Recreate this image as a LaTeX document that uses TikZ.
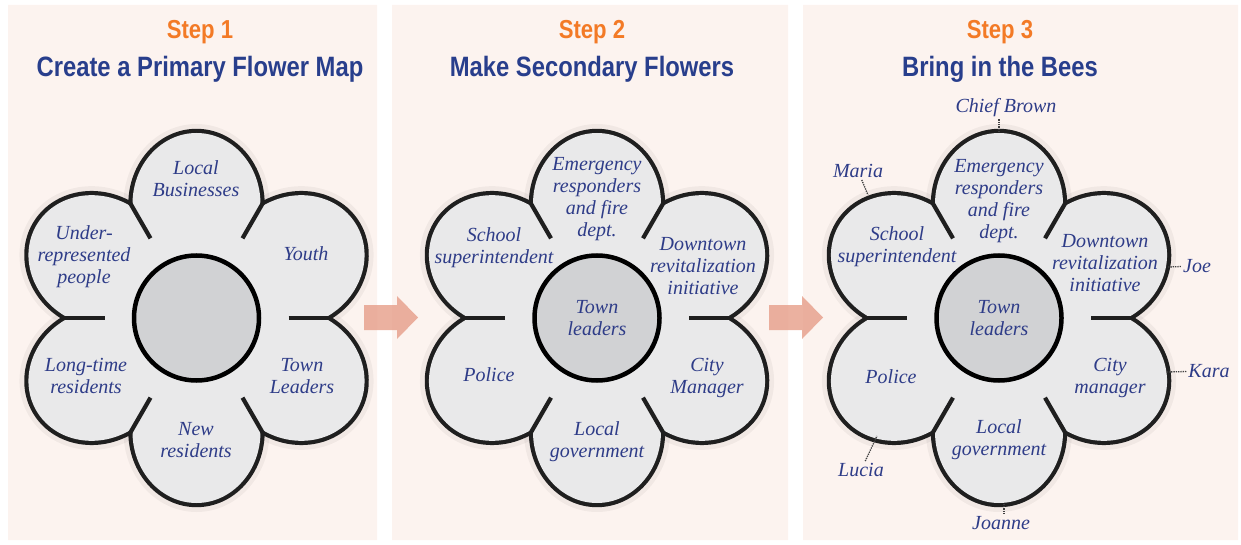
\documentclass[tikz,border=0pt]{standalone}
\usepackage{fontspec}
\setmainfont{Liberation Serif}
\newfontfamily\headfont{Liberation Sans}[FakeStretch=0.85]
\usepackage{xcolor}
\usepackage{tikz}
\definecolor{panelbg}{RGB}{252, 243, 239}
\definecolor{steporange}{RGB}{243, 122, 38}
\definecolor{titleblue}{RGB}{40, 62, 140}
\definecolor{textblue}{RGB}{46, 60, 136}
\definecolor{petalgray}{RGB}{233, 233, 234}
\definecolor{hubgray}{RGB}{209, 210, 212}
\definecolor{arrowpink}{RGB}{232, 163, 143}
\usetikzlibrary{shapes, arrows, positioning, calc}

% six oval petals round the point #1
\newcommand{\flower}[1]{%
    \begin{scope}[shift={#1}]
        \foreach \a in {-90,-30,...,210}
            \draw[halo, rotate=\a-90] (0, 114) ellipse[x radius=64pt, y radius=71pt];
        \foreach \a in {-90,-30,...,210}
            \draw[rim, rotate=\a-90] (0, 114) ellipse[x radius=64pt, y radius=71pt];
        \foreach \a in {-90,-30,...,210}
            \fill[petalgray, rotate=\a-90] (0, 114) ellipse[x radius=64pt, y radius=71pt];
        \fill[petalgray] (0, 0) circle[radius=100pt];
        \foreach \b in {-60,0,...,240}
            \draw[rim, line width=4.2pt] (\b:92) -- (\b:134);
    \end{scope}
}

\begin{document}
\begin{tikzpicture}[
    x=1pt, y=1pt,
    panel/.style={chamfered rectangle, chamfered rectangle xsep=12pt, fill=panelbg, draw=none, inner sep=0pt, outer sep=0pt},
    halo/.style={draw=black, draw opacity=0.045, line width=18pt},
    rim/.style={draw=black!88, line width=8.4pt},
    hub/.style={circle, draw=black, line width=4.5pt, fill=hubgray, minimum size=125pt, inner sep=0pt, align=center, text=textblue, font=\itshape\fontsize{20}{22}\selectfont},
    lbl/.style={align=center, text=textblue, inner sep=2pt, font=\itshape\fontsize{20}{22}\selectfont},
    steplbl/.style={anchor=base, text=steporange, font=\headfont\bfseries\fontsize{26}{28}\selectfont},
    headline/.style={anchor=base, text=titleblue, font=\headfont\bfseries\fontsize{28}{30}\selectfont},
    blockarrow/.style={fill=arrowpink, fill opacity=0.85},
    pin/.style={densely dotted, line width=1.3pt, draw=black!75}
]
    \useasboundingbox (0, 0) rectangle (1241, 544);

    % Panels
    \node[panel, minimum width=369pt, minimum height=535pt] (p1) at (192.5, 271.5) {};
    \node[panel, minimum width=396pt, minimum height=535pt] (p2) at (590, 271.5) {};
    \node[panel, minimum width=435pt, minimum height=535pt] (p3) at (1020.5, 271.5) {};

    % Arrows between steps
    \fill[blockarrow] (364, 214) -- (397, 214) -- (397, 205) -- (418, 226.5) -- (397, 248) -- (397, 239) -- (364, 239) -- cycle;
    \fill[blockarrow] (769, 214) -- (802, 214) -- (802, 205) -- (823, 226.5) -- (802, 248) -- (802, 239) -- (769, 239) -- cycle;

    % Headings
    \node[steplbl] (s1) at (200, 505) {Step 1};
    \node[headline] (t1) at (200, 467) {Create a Primary Flower Map};
    \node[steplbl] (s2) at (592, 505) {Step 2};
    \node[headline] (t2) at (592, 467) {Make Secondary Flowers};
    \node[steplbl] (s3) at (1000, 505) {Step 3};
    \node[headline] (t3) at (1000, 467) {Bring in the Bees};

    % Flowers
    \flower{(196.5, 226)}
    \flower{(597, 226)}
    \flower{(999, 226)}

    \node[hub] (hub1) at (196.5, 226) {};
    \node[hub] (hub2) at (597, 226) {Town\\leaders};
    \node[hub] (hub3) at (999, 226) {Town\\leaders};

    % Step 1 petals
    \node[lbl] (f1-local) at (196, 365) {Local\\Businesses};
    \node[lbl] (f1-under) at (84, 287) {Under-\\represented\\people};
    \node[lbl] (f1-youth) at (306, 290) {Youth};
    \node[lbl] (f1-long) at (86, 168) {Long-time\\residents};
    \node[lbl] (f1-town) at (302, 168) {Town\\Leaders};
    \node[lbl] (f1-new) at (196, 104) {New\\residents};

    % Step 2 petals
    \node[lbl] (f2-emerg) at (597, 345) {Emergency\\responders\\and fire\\dept.};
    \node[lbl] (f2-school) at (494, 296) {School\\superintendent};
    \node[lbl] (f2-down) at (703, 278) {Downtown\\revitalization\\initiative};
    \node[lbl] (f2-police) at (489, 169) {Police};
    \node[lbl] (f2-city) at (707, 166) {City\\Manager};
    \node[lbl] (f2-gov) at (597, 102) {Local\\government};

    % Step 3 petals
    \node[lbl] (f3-emerg) at (999, 343) {Emergency\\responders\\and fire\\dept.};
    \node[lbl] (f3-school) at (897, 297) {School\\superintendent};
    \node[lbl] (f3-down) at (1105, 281) {Downtown\\revitalization\\initiative};
    \node[lbl] (f3-police) at (891, 167) {Police};
    \node[lbl] (f3-city) at (1110, 166) {City\\manager};
    \node[lbl] (f3-gov) at (999, 104) {Local\\government};

    % Bees
    \node[lbl] (chief) at (1006, 436) {Chief Brown};
    \node[lbl] (maria) at (858, 373) {Maria};
    \node[lbl] (joe) at (1197, 278) {Joe};
    \node[lbl] (kara) at (1209, 173) {Kara};
    \node[lbl] (lucia) at (861, 74) {Lucia};
    \node[lbl] (joanne) at (1001, 21) {Joanne};

    \coordinate (chief-pin) at (999, 411);
    \coordinate (maria-pin) at (868, 349);
    \coordinate (joe-pin) at (1168, 277);
    \coordinate (kara-pin) at (1166, 172);
    \coordinate (lucia-pin) at (877, 108);
    \coordinate (joanne-pin) at (1004, 41);

    \draw[pin] (chief-pin |- chief.south) -- (chief-pin);
    \draw[pin] (maria) -- (maria-pin);
    \draw[pin] (joe) -- (joe-pin);
    \draw[pin] (kara) -- (kara-pin);
    \draw[pin] (lucia) -- (lucia-pin);
    \draw[pin] (joanne-pin |- joanne.north) -- (joanne-pin);
\end{tikzpicture}
\end{document}
